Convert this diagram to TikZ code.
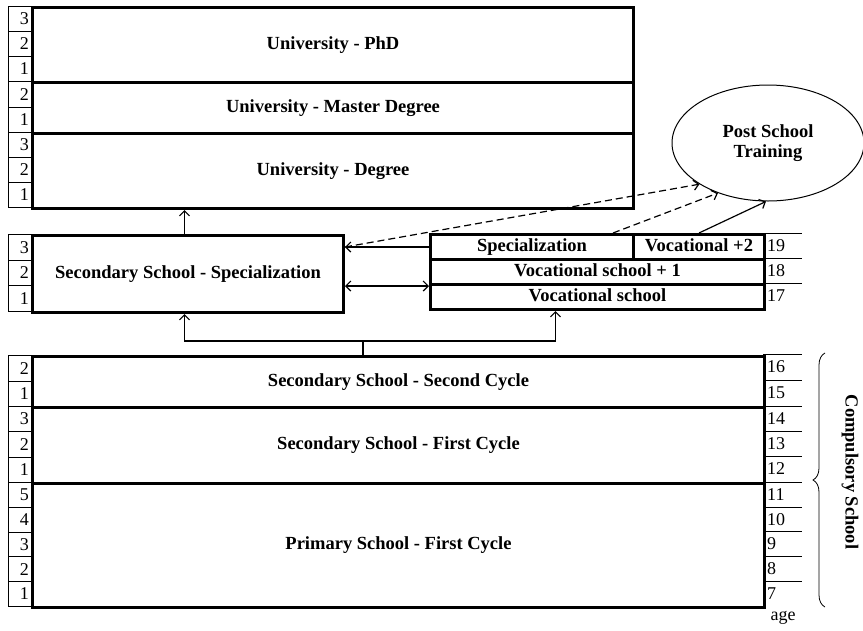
\documentclass[tikz,border=0pt]{standalone}
\usepackage{fontspec}
\setmainfont{Liberation Serif}
\usetikzlibrary{arrows.meta,shapes.geometric,decorations.pathreplacing}

\begin{document}
\begin{tikzpicture}[x=1pt, y=-1pt, font=\fontsize{18}{20}\selectfont,
>={Straight Barb[length=5pt,width=10pt]},
block/.style={draw, line width=3pt, anchor=north west, inner sep=0pt,
    text height=12.5pt, text depth=4pt,
    font=\fontsize{18.5}{20}\selectfont\bfseries},
numcell/.style={draw, line width=0.8pt, anchor=north west, minimum width=23pt,
    text width=18pt, inner sep=2.5pt, align=right},
agenum/.style={anchor=west, inner sep=0pt},
rule/.style={line width=0.8pt},
link/.style={->, line width=1.2pt},
dashlink/.style={link, dash pattern=on 7pt off 4pt}]
\useasboundingbox (0,0) rectangle (863,630);

% year columns on the left
\foreach \blk/\top/\h/\list in {phd/6/25/{3,2,1}, master/81/25.5/{2,1},
    degree/132/25/{3,2,1}, secspec/234/25.67/{3,2,1}, second/355/25.5/{2,1},
    first/406/25.33/{3,2,1}, primary/482/24.8/{5,4,3,2,1}}
  \foreach \n [count=\i] in \list
    \node[numcell, minimum height=\h pt] (\blk-\n) at (8,\top+\h*\i-\h) {\n};

% ages on the right
\foreach \y/\a in {233/19,258/18,283/17,354/16,380/15,406/14,431/13,456/12,
    482/11,507/10,531/9,556/8,581/7} {
  \draw[rule] (763,\y) -- (802,\y);
  \node[agenum] (age-\a) at (767,\y+12.5) {\a};
}
\node (agelabel) at (783,618) {age};

% school blocks
\node[block, minimum width=601pt, minimum height=75pt] (phd) at (31,6) {University - PhD};
\node[block, minimum width=601pt, minimum height=51pt] (master) at (31,81) {University - Master Degree};
\node[block, minimum width=601pt, minimum height=75pt] (degree) at (31,132) {University - Degree};
\node[block, minimum width=311pt, minimum height=77pt] (secspec) at (31,234) {Secondary School - Specialization};
\node[block, minimum width=203pt, minimum height=25pt] (vocspec) at (429,233) {Specialization};
\node[block, minimum width=131pt, minimum height=25pt] (vocplus2) at (632,233) {Vocational +2};
\node[block, minimum width=334pt, minimum height=25pt] (voc1) at (429,258) {Vocational school + 1};
\node[block, minimum width=334pt, minimum height=25pt] (voc) at (429,283) {Vocational school};
\node[block, minimum width=732pt, minimum height=51pt] (second) at (31,355) {Secondary School - Second Cycle};
\node[block, minimum width=732pt, minimum height=76pt] (first) at (31,406) {Secondary School - First Cycle};
\node[block, minimum width=732pt, minimum height=124pt] (primary) at (31,482) {Primary School - First Cycle};

\node[draw, ellipse, line width=1pt, minimum width=192pt, minimum height=116pt,
    align=center, font=\fontsize{18.5}{20}\selectfont\bfseries] (post) at (768,143) {Post School\\Training};

% connectors
\coordinate (up1) at ([xshift=-3.5pt]secspec.north);
\draw[link] (up1) -- (up1 |- degree.south);
\draw[link] (vocspec.west) -- (vocspec.west -| secspec.east);
\draw[dashlink] (vocspec.west -| secspec.east) -- (post.211);
\coordinate (d2) at ([xshift=-22pt]vocspec.north east);
\draw[dashlink] (d2) -- (post.225);
\draw[link] (vocplus2.north) -- (post.268);
\draw[link, <->] (voc1.south west -| secspec.east) -- (voc1.south west);

\coordinate (fork) at (363,341);
\coordinate (up2) at ([xshift=-3.5pt]secspec.south);
\coordinate (up3) at ([xshift=-42pt]voc.south);
\draw[line width=1.2pt] (fork |- second.north) -- (fork);
\draw[link] (fork) -| (up2);
\draw[link] (fork) -| (up3);

% compulsory school brace
\draw[rule, decorate, decoration={brace, amplitude=12pt}] (825,607) -- (825,353);
\node[rotate=-90, inner sep=0pt, font=\fontsize{18.5}{20}\selectfont\bfseries] (compulsory) at (850,472) {Compulsory School};
\end{tikzpicture}
\end{document}
